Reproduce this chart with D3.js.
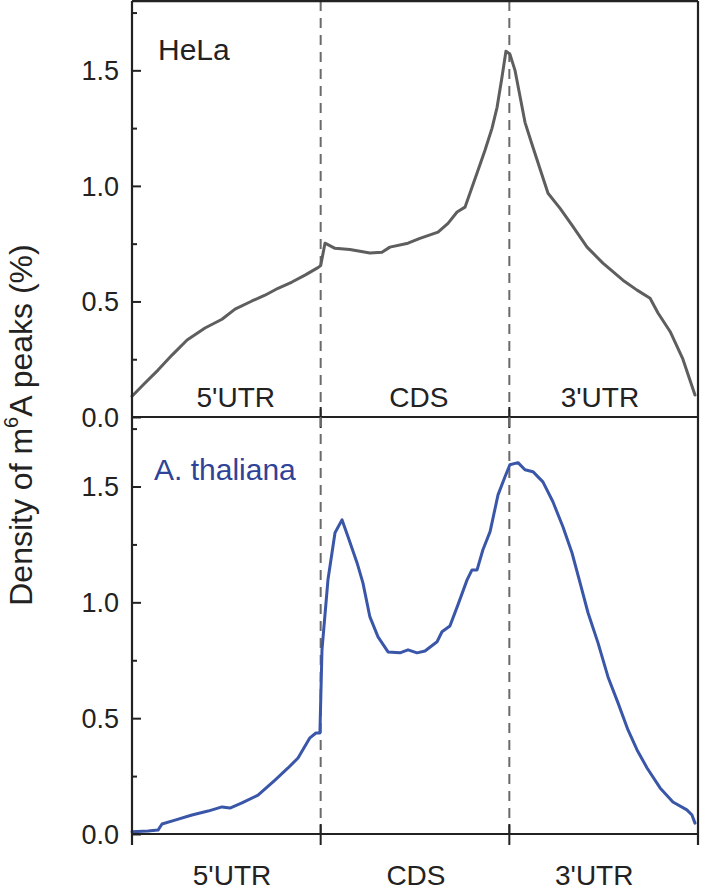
<!DOCTYPE html>
<html>
<head>
<meta charset="utf-8">
<script src="https://cdn.jsdelivr.net/npm/d3@7/dist/d3.min.js"></script>
<style>
  html, body { margin: 0; padding: 0; background: #fff; }
  svg { display: block; }
  text { font-family: "Liberation Sans", Arial, Helvetica, sans-serif; }
</style>
</head>
<body>
<svg id="chart" width="701" height="890"></svg>
<script>
// ---- data ----
const regions = ["5'UTR", "CDS", "3'UTR"];
const regionBounds = [1, 2];
const yTickValues = [0, 0.5, 1.0, 1.5];
const yTickLabels = ["0.0", "0.5", "1.0", "1.5"];
const yMinorValues = [0.25, 0.75, 1.25, 1.75];
const panelNames = ["HeLa", "A. thaliana"];

const helaPos = [0.000,0.069,0.138,0.212,0.292,0.387,0.477,0.546,0.636,0.705,0.774,0.848,0.917,0.981,1.000,
  1.023,1.076,1.155,1.261,1.325,1.367,1.463,1.526,1.622,1.675,1.723,1.765,1.834,1.871,1.908,1.935,1.961,1.982,
  2.003,2.030,2.056,2.083,2.120,2.162,2.205,2.268,2.332,2.412,2.496,2.602,2.677,2.746,2.788,2.852,2.920,2.984];
const helaVal = [0.090,0.147,0.203,0.268,0.333,0.385,0.423,0.467,0.502,0.527,0.557,0.584,0.614,0.644,0.655,
  0.752,0.730,0.725,0.710,0.713,0.735,0.752,0.773,0.800,0.838,0.887,0.908,1.068,1.154,1.249,1.340,1.470,1.583,
  1.570,1.500,1.390,1.275,1.180,1.075,0.968,0.904,0.830,0.735,0.666,0.592,0.549,0.514,0.450,0.370,0.250,0.095];

const athPos = [0.000,0.085,0.138,0.159,0.228,0.318,0.403,0.477,0.519,0.583,0.668,0.758,0.827,0.880,0.943,0.975,0.996,
  1.007,1.039,1.076,1.113,1.145,1.193,1.224,1.261,1.304,1.357,1.420,1.463,1.511,1.553,1.617,1.643,1.685,1.728,1.776,
  1.802,1.829,1.860,1.898,1.940,1.977,2.003,2.046,2.083,2.125,2.178,2.231,2.284,2.332,2.375,2.417,2.470,2.523,2.576,
  2.629,2.677,2.730,2.799,2.867,2.941,2.968,2.984];
const athVal = [0.010,0.013,0.017,0.043,0.060,0.082,0.099,0.117,0.112,0.134,0.168,0.233,0.285,0.328,0.415,0.436,0.436,
  0.795,1.100,1.300,1.356,1.283,1.170,1.084,0.937,0.851,0.786,0.782,0.795,0.782,0.790,0.830,0.873,0.898,0.990,1.097,
  1.140,1.140,1.227,1.305,1.464,1.542,1.594,1.603,1.572,1.564,1.520,1.434,1.326,1.214,1.084,0.955,0.825,0.678,0.566,
  0.449,0.363,0.285,0.199,0.138,0.104,0.082,0.047];

// ---- layout ----
const svg = d3.select("#chart");
const left = 132, right = 698;
const panels = [
  { top: 1, bottom: 417, pos: helaPos, val: helaVal, color: "#5e5e5e", title: panelNames[0], titleColor: "#222",
    labelY: 407, labelPos: [0.55, 1.52, 2.48] },
  { top: 417, bottom: 834, pos: athPos, val: athVal, color: "#3a56a8", title: panelNames[1], titleColor: "#2f4398",
    labelY: 885, labelPos: [0.53, 1.505, 2.45] }
];

const x = d3.scaleLinear().domain([0, 3]).range([left, right]);
const axisColor = "#222";

panels.forEach((p, i) => {
  const y = d3.scaleLinear().domain([0, 1.8]).range([p.bottom, p.top]);
  const g = svg.append("g");

  // dashed boundaries
  regionBounds.forEach(b => {
    g.append("line")
      .attr("x1", x(b)).attr("x2", x(b))
      .attr("y1", y(1.8)).attr("y2", y(0))
      .attr("stroke", "#6a6a6a").attr("stroke-width", 2)
      .attr("stroke-dasharray", "10,7");
  });

  // curve
  const pts = p.pos.map((d, k) => [d, p.val[k]]);
  g.append("path")
    .datum(pts)
    .attr("fill", "none")
    .attr("stroke", p.color)
    .attr("stroke-width", 3)
    .attr("stroke-linejoin", "round")
    .attr("stroke-linecap", "round")
    .attr("d", d3.line().x(d => x(d[0])).y(d => y(d[1])));

  // y axis (ticks inward)
  const yAxis = d3.axisRight(y).tickValues(yTickValues).tickSize(9).tickFormat("");
  const ya = g.append("g").attr("transform", `translate(${left},0)`).call(yAxis);
  ya.select(".domain").remove();
  ya.selectAll("line").attr("stroke", axisColor).attr("stroke-width", 2);

  const yMinor = d3.axisRight(y).tickValues(yMinorValues).tickSize(5).tickFormat("");
  const ym = g.append("g").attr("transform", `translate(${left},0)`).call(yMinor);
  ym.select(".domain").remove();
  ym.selectAll("line").attr("stroke", axisColor).attr("stroke-width", 2);

  // tick labels
  g.selectAll(".ylab").data(yTickValues).enter().append("text")
    .attr("x", 119).attr("y", d => y(d)).attr("dy", "0.36em")
    .attr("text-anchor", "end").attr("font-size", 27).attr("fill", "#222")
    .text((d, k) => yTickLabels[k]);

  // x axis ticks crossing the line
  const xt = g.append("g");
  [0, 1, 2, 3].forEach(v => {
    xt.append("line")
      .attr("x1", x(v)).attr("x2", x(v))
      .attr("y1", y(0) - 10).attr("y2", y(0) + 11)
      .attr("stroke", axisColor).attr("stroke-width", 2);
  });

  // bottom axis line
  g.append("line").attr("x1", left).attr("x2", right)
    .attr("y1", y(0)).attr("y2", y(0))
    .attr("stroke", axisColor).attr("stroke-width", 2.2);

  // region labels
  regions.forEach((r, k) => {
    g.append("text").attr("x", x(p.labelPos[k])).attr("y", p.labelY)
      .attr("text-anchor", "middle").attr("font-size", 28).attr("fill", "#222")
      .text(r);
  });

  // panel title
  g.append("text")
    .attr("x", i === 0 ? 158 : 154).attr("y", i === 0 ? 60 : 480)
    .attr("font-size", 30).attr("fill", p.titleColor)
    .text(p.title);
});

// frame: left axis, top, right
svg.append("line").attr("x1", left).attr("x2", left).attr("y1", 1).attr("y2", 845)
  .attr("stroke", axisColor).attr("stroke-width", 2.2);
svg.append("line").attr("x1", right).attr("x2", right).attr("y1", 1).attr("y2", 845)
  .attr("stroke", axisColor).attr("stroke-width", 2.2);
svg.append("line").attr("x1", left).attr("x2", right).attr("y1", 1.1).attr("y2", 1.1)
  .attr("stroke", axisColor).attr("stroke-width", 2.2);

// y label
const yl = svg.append("text")
  .attr("transform", "translate(32,425) rotate(-90)")
  .attr("text-anchor", "middle").attr("font-size", 32).attr("fill", "#222");
yl.append("tspan").text("Density of m");
yl.append("tspan").attr("font-size", 20).attr("dy", -14).text("6");
yl.append("tspan").attr("dy", 14).text("A peaks (%)");
</script>
</body>
</html>
